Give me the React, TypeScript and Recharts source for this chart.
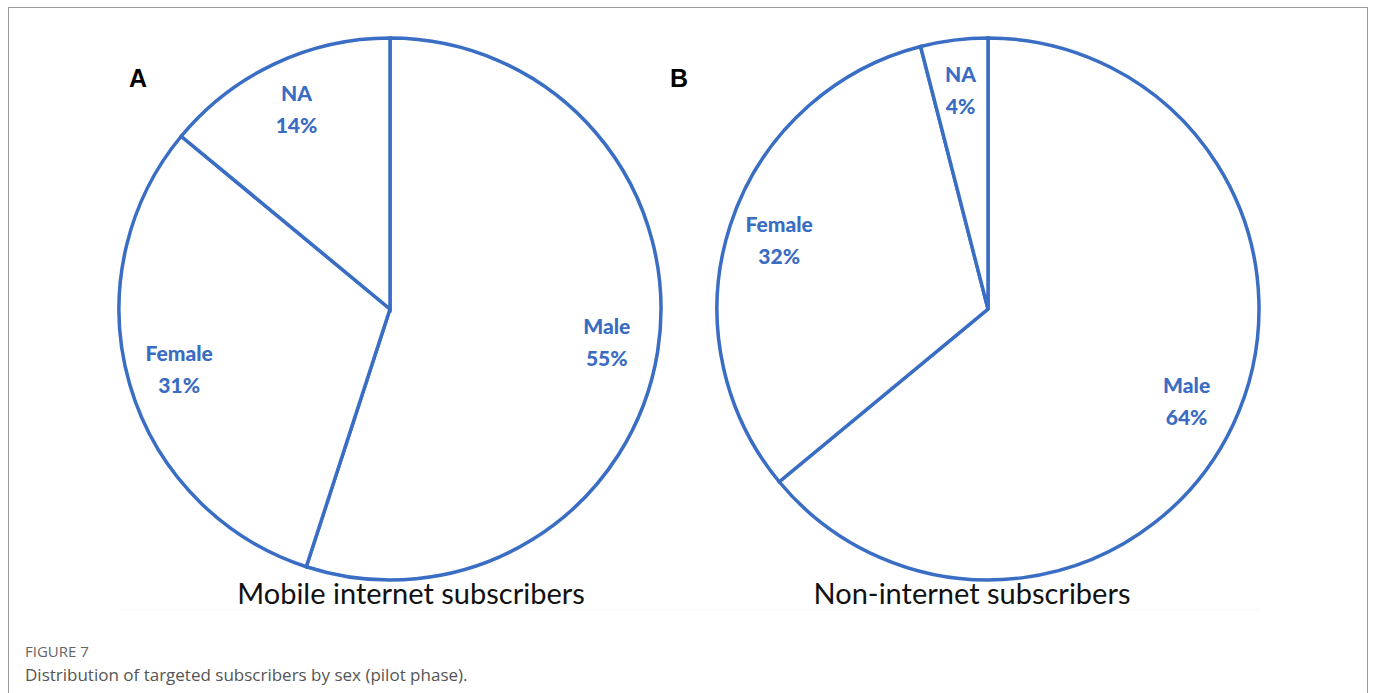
import React from 'react';
import { PieChart, Pie, Cell } from 'recharts';

const categories = ['Male', 'Female', 'NA'];
const mobileValues = [55, 31, 14];
const nonInternetValues = [64, 32, 4];
const panelLetters = ['A', 'B'];
const panelTitles = ['Mobile internet subscribers', 'Non-internet subscribers'];
const figureLabel = 'FIGURE 7';
const figureCaption = 'Distribution of targeted subscribers by sex (pilot phase).';

const BLUE = '#3a6dc4';
const LABEL_BLUE = '#3a6cc4';
const RAD = Math.PI / 180;

const mobileData = categories.map((name, i) => ({ name, value: mobileValues[i] }));
const nonInternetData = categories.map((name, i) => ({ name, value: nonInternetValues[i] }));

const renderLabel = (props: any) => {
  const { cx, cy, midAngle, outerRadius, name, value } = props;
  const r = outerRadius * 0.81;
  const x = cx + r * Math.cos(-midAngle * RAD);
  const y = cy + r * Math.sin(-midAngle * RAD);
  return (
    <text
      x={x}
      y={y}
      textAnchor="middle"
      fill={LABEL_BLUE}
      fontFamily="Lato, 'Open Sans', sans-serif"
      fontWeight={900}
      fontSize={21}
    >
      <tspan x={x} dy={-9}>{name}</tspan>
      <tspan x={x} dy={32}>{value}%</tspan>
    </text>
  );
};

export default function App() {
  return (
    <div style={{ position: 'absolute', left: 0, top: 0, width: 1375, height: 693, background: '#fff', overflow: 'hidden' }}>
      <div style={{ position: 'absolute', left: 8, top: 7, width: 1360, height: 720, border: '1px solid #9a9a9a', boxSizing: 'border-box' }} />
      <div style={{ position: 'absolute', left: 0, top: 0 }}>
        <PieChart width={1375} height={693} margin={{ top: 0, right: 0, bottom: 0, left: 0 }}>
          <Pie
            data={mobileData}
            dataKey="value"
            nameKey="name"
            cx={390}
            cy={309}
            outerRadius={271}
            startAngle={90}
            endAngle={-270}
            fill="#ffffff"
            stroke={BLUE}
            strokeWidth={3.5}
            label={renderLabel}
            labelLine={false}
            isAnimationActive={false}
          >
            {mobileData.map((d) => (
              <Cell key={d.name} fill="#ffffff" stroke={BLUE} strokeWidth={3.5} />
            ))}
          </Pie>
          <Pie
            data={nonInternetData}
            dataKey="value"
            nameKey="name"
            cx={988}
            cy={309}
            outerRadius={271}
            startAngle={90}
            endAngle={-270}
            fill="#ffffff"
            stroke={BLUE}
            strokeWidth={3.5}
            label={renderLabel}
            labelLine={false}
            isAnimationActive={false}
          >
            {nonInternetData.map((d) => (
              <Cell key={d.name} fill="#ffffff" stroke={BLUE} strokeWidth={3.5} />
            ))}
          </Pie>
        </PieChart>
      </div>
      <div style={{ position: 'absolute', left: 129, top: 64, fontFamily: "'Liberation Sans', Arial, sans-serif", fontWeight: 'bold', fontSize: 25, color: '#000' }}>{panelLetters[0]}</div>
      <div style={{ position: 'absolute', left: 670, top: 64, fontFamily: "'Liberation Sans', Arial, sans-serif", fontWeight: 'bold', fontSize: 25, color: '#000' }}>{panelLetters[1]}</div>
      <div style={{ position: 'absolute', left: 411, top: 592, transform: 'translate(-50%, -50%)', whiteSpace: 'nowrap', fontFamily: "Lato, 'Open Sans', sans-serif", fontSize: 29, color: '#111' }}>{panelTitles[0]}</div>
      <div style={{ position: 'absolute', left: 972, top: 592, transform: 'translate(-50%, -50%)', whiteSpace: 'nowrap', fontFamily: "Lato, 'Open Sans', sans-serif", fontSize: 29, color: '#111' }}>{panelTitles[1]}</div>
      <div style={{ position: 'absolute', left: 120, top: 609, width: 1140, height: 1, background: '#f8f8f8' }} />
      <div style={{ position: 'absolute', left: 25, top: 641, fontFamily: "'Open Sans', sans-serif", fontSize: 15, color: '#666' }}>{figureLabel}</div>
      <div style={{ position: 'absolute', left: 25, top: 663, fontFamily: "'Open Sans', sans-serif", fontSize: 17, color: '#555' }}>{figureCaption}</div>
    </div>
  );
}
